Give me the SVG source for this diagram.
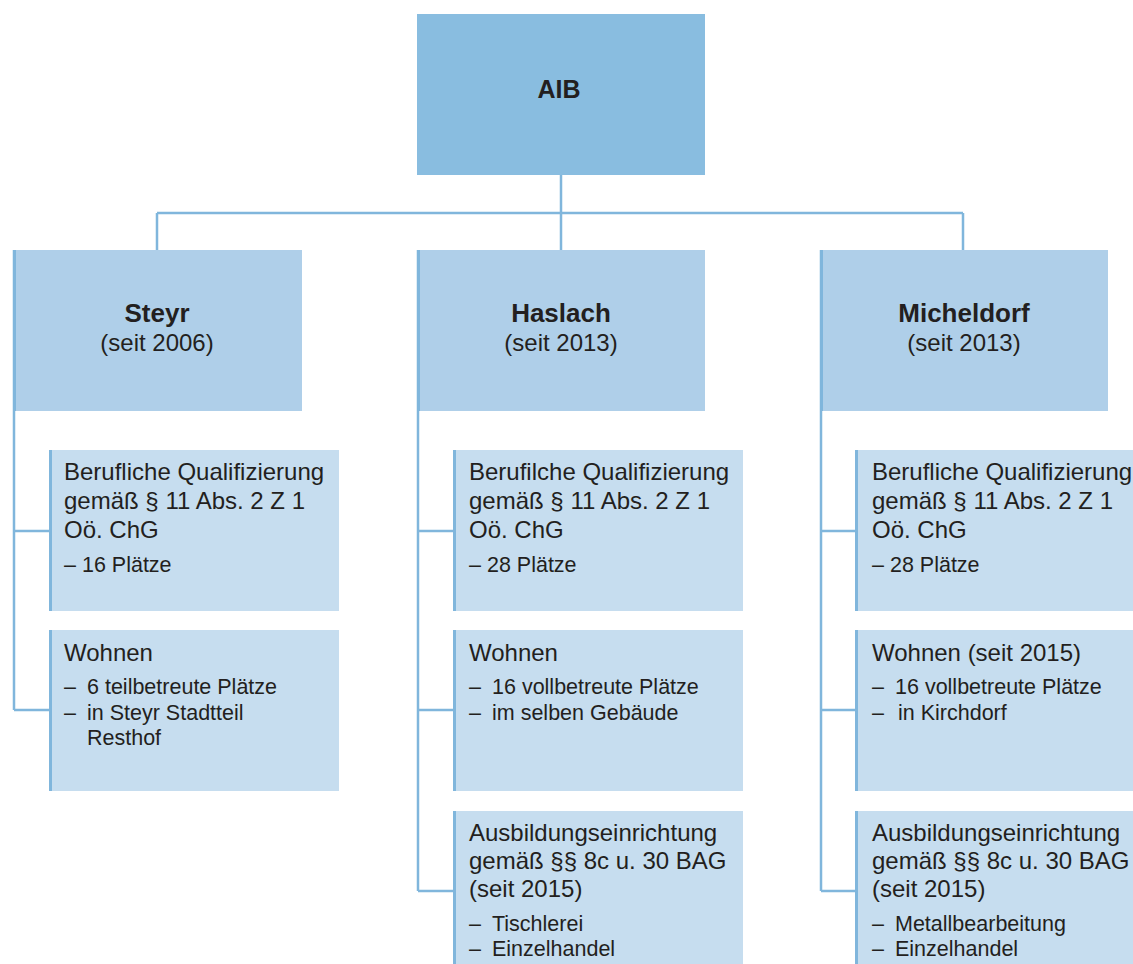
<svg xmlns="http://www.w3.org/2000/svg" width="1133" height="964" viewBox="0 0 1133 964">
<style>
.top{fill:#89bde0}
.lvl{fill:#afcfe9}
.sub{fill:#c6ddef}
.edge{stroke:#80b6dc;stroke-width:3;fill:none}
.conn{stroke:#80b6dc;stroke-width:2.5;fill:none}
text{font-family:"Liberation Sans",Arial,sans-serif;fill:#231f20}
.ttl{font-size:26px;font-weight:bold;text-anchor:middle}
.st{font-size:24px;text-anchor:middle}
.b{font-size:24px}
.i{font-size:21.5px}
</style>
<rect width="1133" height="964" fill="#ffffff"/>
<g id="connectors">
<path class="conn" d="M561 175V213M157 213H963M157 213V250M561 213V250M963 213V250"/>
<path class="conn" d="M14 250V710M14 531H50M14 710H50"/>
<path class="conn" d="M418 250V891M418 531H453M418 710H453M418 891H453"/>
<path class="conn" d="M821 250V891M821 531H856M821 710H856M821 891H856"/>
</g>
<g id="aib">
<rect class="top" x="417" y="14" width="288" height="161"/>
<text x="559" y="98" style="font-size:25px;font-weight:bold;text-anchor:middle">AIB</text>
</g>
<g id="steyr">
<rect class="lvl" x="13" y="250" width="289" height="161"/>
<path class="edge" d="M14.5 250V411"/>
<text class="ttl" x="157" y="322">Steyr</text>
<text class="st" x="157" y="351">(seit 2006)</text>
</g>
<g id="haslach">
<rect class="lvl" x="417" y="250" width="288" height="161"/>
<path class="edge" d="M418.5 250V411"/>
<text class="ttl" x="561" y="322">Haslach</text>
<text class="st" x="561" y="351">(seit 2013)</text>
</g>
<g id="micheldorf">
<rect class="lvl" x="820" y="250" width="288" height="161"/>
<path class="edge" d="M821.5 250V411"/>
<text class="ttl" x="964" y="322">Micheldorf</text>
<text class="st" x="964" y="351">(seit 2013)</text>
</g>
<g id="steyr-qual">
<rect class="sub" x="49" y="450" width="290" height="161"/>
<path class="edge" d="M50.5 450V611"/>
<text class="b" x="64" y="480">Berufliche Qualifizierung</text>
<text class="b" x="64" y="509">gemäß § 11 Abs. 2 Z 1</text>
<text class="b" x="64" y="538">Oö. ChG</text>
<text class="i" x="64" y="572">– 16 Plätze</text>
</g>
<g id="steyr-wohnen">
<rect class="sub" x="49" y="630" width="290" height="161"/>
<path class="edge" d="M50.5 630V791"/>
<text class="b" x="64" y="661">Wohnen</text>
<text class="i" x="64" y="694">–</text>
<text class="i" x="87" y="694">6 teilbetreute Plätze</text>
<text class="i" x="64" y="720">–</text>
<text class="i" x="87" y="720">in Steyr Stadtteil</text>
<text class="i" x="87" y="745">Resthof</text>
</g>
<g id="haslach-qual">
<rect class="sub" x="453" y="450" width="290" height="161"/>
<path class="edge" d="M454.5 450V611"/>
<text class="b" x="469" y="480">Berufilche Qualifizierung</text>
<text class="b" x="469" y="509">gemäß § 11 Abs. 2 Z 1</text>
<text class="b" x="469" y="538">Oö. ChG</text>
<text class="i" x="469" y="572">– 28 Plätze</text>
</g>
<g id="haslach-wohnen">
<rect class="sub" x="453" y="630" width="290" height="161"/>
<path class="edge" d="M454.5 630V791"/>
<text class="b" x="469" y="661">Wohnen</text>
<text class="i" x="469" y="694">–</text>
<text class="i" x="492" y="694">16 vollbetreute Plätze</text>
<text class="i" x="469" y="720">–</text>
<text class="i" x="492" y="720">im selben Gebäude</text>
</g>
<g id="haslach-ausbildung">
<rect class="sub" x="453" y="811" width="290" height="153"/>
<path class="edge" d="M454.5 811V964"/>
<text class="b" x="469" y="841">Ausbildungseinrichtung</text>
<text class="b" x="469" y="869">gemäß §§ 8c u. 30 BAG</text>
<text class="b" x="469" y="897">(seit 2015)</text>
<text class="i" x="469" y="931">–</text>
<text class="i" x="492" y="931">Tischlerei</text>
<text class="i" x="469" y="956">–</text>
<text class="i" x="492" y="956">Einzelhandel</text>
</g>
<g id="micheldorf-qual">
<rect class="sub" x="855" y="450" width="278" height="161"/>
<path class="edge" d="M856.5 450V611"/>
<text class="b" x="872" y="480">Berufliche Qualifizierung</text>
<text class="b" x="872" y="509">gemäß § 11 Abs. 2 Z 1</text>
<text class="b" x="872" y="538">Oö. ChG</text>
<text class="i" x="872" y="572">– 28 Plätze</text>
</g>
<g id="micheldorf-wohnen">
<rect class="sub" x="855" y="630" width="278" height="161"/>
<path class="edge" d="M856.5 630V791"/>
<text class="b" x="872" y="661">Wohnen (seit 2015)</text>
<text class="i" x="872" y="694">–</text>
<text class="i" x="895" y="694">16 vollbetreute Plätze</text>
<text class="i" x="872" y="720">–</text>
<text class="i" x="898" y="720">in Kirchdorf</text>
</g>
<g id="micheldorf-ausbildung">
<rect class="sub" x="855" y="811" width="278" height="153"/>
<path class="edge" d="M856.5 811V964"/>
<text class="b" x="872" y="841">Ausbildungseinrichtung</text>
<text class="b" x="872" y="869">gemäß §§ 8c u. 30 BAG</text>
<text class="b" x="872" y="897">(seit 2015)</text>
<text class="i" x="872" y="931">–</text>
<text class="i" x="895" y="931">Metallbearbeitung</text>
<text class="i" x="872" y="956">–</text>
<text class="i" x="895" y="956">Einzelhandel</text>
</g>
</svg>
